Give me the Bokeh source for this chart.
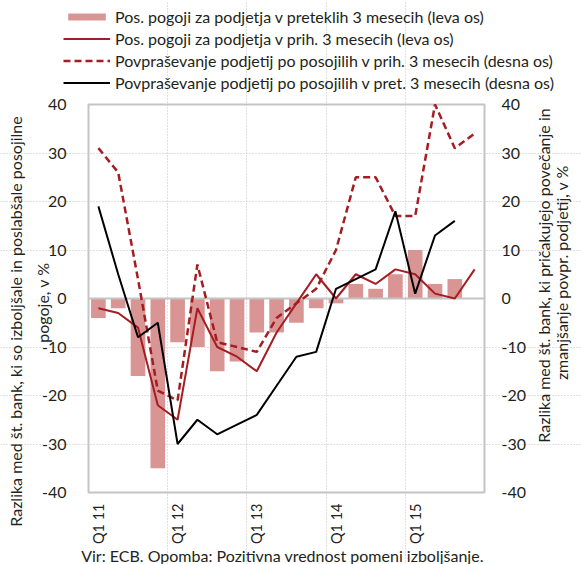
import math
from bokeh.plotting import figure
from bokeh.models import (Range1d, LinearAxis, FixedTicker, Legend, LegendItem,
                          Label, ColumnDataSource, Grid)
from bokeh.embed import file_html
from bokeh.resources import INLINE

# ---------------- data ----------------
quarters = ["Q1 11", "Q2 11", "Q3 11", "Q4 11",
            "Q1 12", "Q2 12", "Q3 12", "Q4 12",
            "Q1 13", "Q2 13", "Q3 13", "Q4 13",
            "Q1 14", "Q2 14", "Q3 14", "Q4 14",
            "Q1 15", "Q2 15", "Q3 15", "Q4 15"]
# Pos. pogoji za podjetja v preteklih 3 mesecih (leva os) - bars
cond_past = [-4, -2, -16, -35, -9, -10, -15, -13, -7, -7, -5, -2,
             -1, 3, 2, 5, 10, 3, 4]
# Pos. pogoji za podjetja v prih. 3 mesecih (leva os)
cond_next = [-2, -3, -6, -22, -25, -2, -10, -12, -15, -7, -1, 5,
             0, 5, 3, 6, 5, 1, 0, 6]
# Povpraševanje podjetij po posojilih v prih. 3 mesecih (desna os)
demand_next = [31, 26, 4, -19, -21, 7, -9, -10, -11, -4, -1, 2,
               10, 25, 25, 17, 17, 40, 31, 34]
# Povpraševanje podjetij po posojilih v pret. 3 mesecih (desna os)
demand_past = [19, 5, -8, -5, -30, -25, -28, -26, -24, -18, -12, -11,
               2, 4, 6, 18, 1, 13, 16]

y_ticks = [-40, -30, -20, -10, 0, 10, 20, 30, 40]
legend_labels = ["Pos. pogoji za podjetja v preteklih 3 mesecih (leva os)",
                 "Pos. pogoji za podjetja v prih. 3 mesecih (leva os)",
                 "Povpraševanje podjetij po posojilih v prih. 3 mesecih (desna os)",
                 "Povpraševanje podjetij po posojilih v pret. 3 mesecih (desna os)"]
left_title = ["Razlika med št. bank, ki so izboljšale in poslabšale posojilne",
              "pogoje, v %"]
right_title = ["Razlika med št. bank, ki pričakujejo povečanje in",
               "zmanjšanje povpr. podjetij, v %"]
note = "Vir: ECB. Opomba: Pozitivna vrednost pomeni izboljšanje."

FONT = "Lato"
TXT = "#231f20"
BAR = "#d99594"
RED = "#a51c22"
GRID = "#c0c0c0"

# ---------------- layout (pixels) ----------------
W, H = 581, 564
PL, PR, PT, PB = 88, 484, 104, 492          # plotting area edges
N = len(quarters)
YMIN, YMAX = y_ticks[0], y_ticks[-1]
sx = (PR - PL) / N                          # px per quarter
sy = (PB - PT) / (YMAX - YMIN)              # px per unit

def dx(px):
    return (px - PL) / sx

def dy(py):
    return YMIN + (PB - py) / sy

p = figure(width=W, height=H, output_backend="svg", toolbar_location=None,
           x_range=Range1d(dx(0), dx(W)), y_range=Range1d(dy(H), dy(0)),
           x_axis_location=None, y_axis_location=None,
           min_border_left=0, min_border_right=0, min_border_top=0,
           min_border_bottom=0)
p.extra_y_ranges = {"right": Range1d(dy(H), dy(0))}
p.outline_line_color = None
p.background_fill_color = "white"
p.border_fill_color = "white"
p.grid.visible = False

def xs(n):
    return [i + 0.5 for i in range(n)]

# ---------------- grids ----------------
gy = Grid(dimension=1, ticker=FixedTicker(ticks=[t for t in y_ticks if t not in (0, YMIN, YMAX)]),
          bounds=(0, N), grid_line_color=GRID, grid_line_dash="1 2", grid_line_width=1)
year_bounds = [i for i in range(1, N) if quarters[i].startswith("Q1")]
gx = Grid(dimension=0, ticker=FixedTicker(ticks=year_bounds),
          bounds=(YMIN, YMAX), grid_line_color=GRID, grid_line_dash="1 2", grid_line_width=1)
p.add_layout(gy)
p.add_layout(gx)

# ---------------- bars ----------------
src_bar = ColumnDataSource(dict(x=xs(len(cond_past)), top=cond_past))
r_bar = p.vbar(x="x", top="top", bottom=0, width=0.74, source=src_bar,
               fill_color=BAR, line_color=None)

# zero line and plot-area border
p.segment(x0=[0], y0=[0], x1=[N], y1=[0], line_color="#c4c4c4", line_width=2)
p.quad(left=[0], right=[N], bottom=[YMIN], top=[YMAX], fill_color=None,
       line_color="#c4c4c4", line_width=2)

# ---------------- lines ----------------
r_cn = p.line(xs(len(cond_next)), cond_next, line_color=RED, line_width=2)
r_dn = p.line(xs(len(demand_next)), demand_next, line_color=RED, line_width=2.5,
              line_dash="7 4", y_range_name="right")
r_dp = p.line(xs(len(demand_past)), demand_past, line_color="black", line_width=2,
              y_range_name="right")

# ---------------- axes ----------------
y_overrides = {t: str(t) for t in y_ticks}
ax_l = LinearAxis(ticker=FixedTicker(ticks=y_ticks), fixed_location=0,
                  major_label_overrides=y_overrides, major_label_standoff=16)
ax_r = LinearAxis(y_range_name="right", ticker=FixedTicker(ticks=y_ticks),
                  fixed_location=N, major_label_overrides=y_overrides,
                  major_label_standoff=11)
q1_pos = [i + 0.5 for i, q in enumerate(quarters) if q.startswith("Q1")]
ax_b = LinearAxis(ticker=FixedTicker(ticks=q1_pos), fixed_location=YMIN,
                  major_label_overrides={i + 0.5: q for i, q in enumerate(quarters) if q.startswith("Q1")},
                  major_label_orientation=math.pi / 2, major_label_standoff=5)
for ax in [ax_l, ax_r, ax_b]:
    ax.axis_line_color = None
    ax.major_tick_line_color = None
    ax.minor_tick_line_color = None
    ax.major_label_text_font = FONT
    ax.major_label_text_font_size = "16px"
    ax.major_label_text_color = TXT
ax_b.major_label_text_font_size = "14.5px"
p.add_layout(ax_l, "left")
p.add_layout(ax_r, "right")
p.add_layout(ax_b, "below")

# ---------------- legend ----------------
legend = Legend(items=[LegendItem(label=legend_labels[0], renderers=[r_bar]),
                       LegendItem(label=legend_labels[1], renderers=[r_cn]),
                       LegendItem(label=legend_labels[2], renderers=[r_dn]),
                       LegendItem(label=legend_labels[3], renderers=[r_dp])],
                location=(63, H - 93), orientation="vertical",
                glyph_width=47, glyph_height=9, label_height=22, spacing=0,
                padding=0, margin=0, label_standoff=5,
                label_text_font=FONT, label_text_font_size="16px",
                label_text_color=TXT, background_fill_alpha=0,
                border_line_color=None)
p.add_layout(legend, "center")

# ---------------- axis titles and note ----------------
def add_label(px, py, text, angle=0.0):
    p.add_layout(Label(x=dx(px), y=dy(py), text=text, angle=angle,
                       text_align="center", text_baseline="middle",
                       text_font=FONT, text_font_size="16px", text_color=TXT))

add_label(15, 321, left_title[0], math.pi / 2)
add_label(42, 302, left_title[1], math.pi / 2)
add_label(543, 275, right_title[0], math.pi / 2)
add_label(561, 272, right_title[1], math.pi / 2)
add_label(282, 555, note)

open("out.html", "w").write(file_html(p, INLINE))
